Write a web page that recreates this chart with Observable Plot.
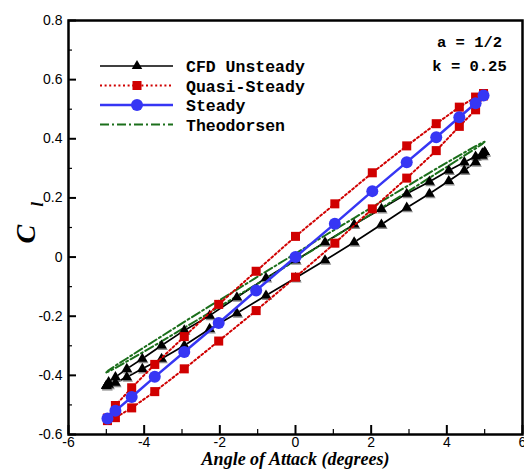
<!DOCTYPE html>
<html><head><meta charset="utf-8">
<script src="https://cdn.jsdelivr.net/npm/d3@7"></script>
<script src="https://cdn.jsdelivr.net/npm/@observablehq/plot@0.6"></script>
<style>body{margin:0;background:#fff}</style>
</head><body><div id="chart"></div>
<script>
// Angle of attack samples (degrees)
const alphaCfd = [-5, -4.94, -4.76, -4.46, -4.05, -3.54, -2.94, -2.27, -1.55, -0.78, 0, 0.78, 1.55, 2.27, 2.94, 3.54, 4.05, 4.46, 4.76, 4.94, 5];
const alphaQs  = [-4.97, -4.76, -4.33, -3.72, -2.94, -2.03, -1.04, 0, 1.04, 2.03, 2.94, 3.72, 4.33, 4.76, 4.97];

// CFD Unsteady (two branches, listed by ascending alpha)
const clCfdUpper = [-0.435, -0.423, -0.406, -0.378, -0.344, -0.299, -0.248, -0.198, -0.136, -0.071, -0.011, 0.050, 0.110, 0.163, 0.214, 0.255, 0.293, 0.321, 0.340, 0.351, 0.355];
const clCfdLower = [-0.435, -0.432, -0.425, -0.406, -0.378, -0.344, -0.299, -0.243, -0.190, -0.130, -0.071, -0.011, 0.050, 0.110, 0.167, 0.214, 0.257, 0.293, 0.321, 0.343, 0.355];

// Quasi-Steady
const clQsUpper = [-0.545, -0.502, -0.442, -0.363, -0.269, -0.160, -0.048, 0.070, 0.180, 0.285, 0.376, 0.451, 0.507, 0.541, 0.553];
const clQsLower = [-0.553, -0.543, -0.510, -0.455, -0.378, -0.284, -0.181, -0.068, 0.047, 0.163, 0.267, 0.360, 0.442, 0.498, 0.545];

// Steady
const clSteady = [-0.546, -0.520, -0.473, -0.405, -0.321, -0.223, -0.113, 0, 0.113, 0.223, 0.321, 0.405, 0.473, 0.520, 0.546];

// Theodorsen (same alpha samples as CFD)
const clThUpper = [-0.39, -0.383, -0.367, -0.343, -0.309, -0.268, -0.219, -0.166, -0.110, -0.049, 0.012, 0.073, 0.132, 0.188, 0.239, 0.285, 0.323, 0.353, 0.375, 0.387, 0.39];
const clThLower = [-0.39, -0.387, -0.375, -0.353, -0.323, -0.285, -0.239, -0.188, -0.132, -0.073, -0.012, 0.049, 0.110, 0.166, 0.219, 0.268, 0.309, 0.343, 0.367, 0.383, 0.39];

// Ticks
const xMajor = [-6, -4, -2, 0, 2, 4, 6];
const xMinor = [-5, -3, -1, 1, 3, 5];
const yMajor = [-0.6, -0.4, -0.2, 0, 0.2, 0.4, 0.6, 0.8];
const yMinor = [-0.5, -0.3, -0.1, 0.1, 0.3, 0.5, 0.7];

const legendLabels = ["CFD Unsteady", "Quasi-Steady", "Steady", "Theodorsen"];
const params = ["a = 1/2", "k = 0.25"];
const xLabel = "Angle of Attack (degrees)";

// build closed loops
function loop(alpha, upper, lower) {
  const up = alpha.map((a, i) => ({a, cl: upper[i]}));
  const down = alpha.map((a, i) => ({a, cl: lower[i]})).reverse();
  return up.concat(down, [up[0]]);
}
const cfdLoop = loop(alphaCfd, clCfdUpper, clCfdLower);
const qsLoop = loop(alphaQs, clQsUpper, clQsLower);
const thLoop = loop(alphaCfd, clThUpper, clThLower);
const steady = alphaQs.map((a, i) => ({a, cl: clSteady[i]}));

const BLACK = "#000000", RED = "#d00000", BLUE = "#3636f4", GREEN = "#1b6f1b";
const QS_DASH = "2,2.6", TH_DASH = "9,3,2,3";
const SERIF = "'Liberation Serif', 'Times New Roman', serif";
const MONO = "'Liberation Mono', 'Courier New', monospace";

const fmtX = d => String(d);
const fmtY = d => d === 0 ? "0" : d.toFixed(1);

const chart = Plot.plot({
  width: 524, height: 473,
  marginTop: 20, marginRight: 2, marginBottom: 39, marginLeft: 68,
  style: {background: "white", fontFamily: "'Liberation Sans', Arial, sans-serif", fontSize: "14px", color: "black"},
  x: {domain: [-6, 6], label: null},
  y: {domain: [-0.6, 0.8], label: null},
  marks: [
    Plot.axisX({ticks: xMajor, anchor: "bottom", tickSize: -9, tickPadding: 12, tickFormat: fmtX, strokeWidth: 2, fontSize: 14, label: null}),
    Plot.axisX({ticks: xMinor, anchor: "bottom", tickSize: -5, text: null, strokeWidth: 1.2, label: null}),
    Plot.axisY({ticks: yMajor, anchor: "left", tickSize: -8, tickPadding: 14, tickFormat: fmtY, strokeWidth: 2, fontSize: 14, label: null}),
    Plot.axisY({ticks: yMinor, anchor: "left", tickSize: -4, text: null, strokeWidth: 1.2, label: null}),

    Plot.line(cfdLoop, {x: "a", y: "cl", stroke: BLACK, strokeWidth: 1.7}),
    Plot.line(thLoop, {x: "a", y: "cl", stroke: GREEN, strokeWidth: 2, strokeDasharray: TH_DASH}),
    Plot.dot(cfdLoop, {x: "a", y: "cl", symbol: "triangle", r: 3.9, fill: "#8c8c8c", dx: 1, dy: 1.5}),
    Plot.dot(cfdLoop, {x: "a", y: "cl", symbol: "triangle", r: 3.9, fill: BLACK}),
    Plot.line(qsLoop, {x: "a", y: "cl", stroke: RED, strokeWidth: 2, strokeDasharray: QS_DASH}),
    Plot.dot(qsLoop, {x: "a", y: "cl", symbol: "square", r: 5.1, fill: RED}),
    Plot.line(steady, {x: "a", y: "cl", stroke: BLUE, strokeWidth: 2.5}),
    Plot.dot(steady, {x: "a", y: "cl", r: 6, fill: BLUE}),

    Plot.text([params[0]], {frameAnchor: "top-right", dx: -53, dy: 15, textAnchor: "middle", fontFamily: MONO, fontWeight: "bold", fontSize: 15.5}),
    Plot.text([params[1]], {frameAnchor: "top-right", dx: -53, dy: 39, textAnchor: "middle", fontFamily: MONO, fontWeight: "bold", fontSize: 15.5}),

    Plot.text([xLabel], {frameAnchor: "bottom", dy: 30.5, fontFamily: SERIF, fontWeight: "bold", fontStyle: "italic", fontSize: 18}),
    Plot.text(["C"], {frameAnchor: "left", dx: -42, dy: 16, rotate: -90, fontFamily: SERIF, fontWeight: "bold", fontStyle: "italic", fontSize: 28}),
    Plot.text(["l"], {frameAnchor: "left", dx: -31, dy: -21, rotate: -90, fontFamily: SERIF, fontWeight: "bold", fontStyle: "italic", fontSize: 16}),

    Plot.frame({stroke: "black", strokeWidth: 2.5})
  ]
});

// Legend (pixel layout inside the frame, top-left)
const svg = d3.select(chart);
const lg = svg.append("g").attr("text-anchor", "start");
const rows = [
  {color: BLACK, dash: null, width: 1.7, sym: d3.symbolTriangle, size: Math.PI * 3.9 * 3.9},
  {color: RED, dash: QS_DASH, width: 2, sym: d3.symbolSquare, size: Math.PI * 5.1 * 5.1},
  {color: BLUE, dash: null, width: 2.5, sym: d3.symbolCircle, size: Math.PI * 36},
  {color: GREEN, dash: TH_DASH, width: 2, sym: null}
];
const rowY = [66, 85.5, 105, 124.5];
rows.forEach((r, i) => {
  const y = rowY[i];
  lg.append("line").attr("x1", 100).attr("x2", 173).attr("y1", y).attr("y2", y)
    .attr("stroke", r.color).attr("stroke-width", r.width)
    .attr("stroke-dasharray", r.dash);
  if (r.sym) {
    lg.append("path").attr("d", d3.symbol(r.sym, r.size)()).attr("transform", `translate(137,${y})`).attr("fill", r.color);
  }
  lg.append("text").attr("x", 186).attr("y", y + 6).attr("text-anchor", "start")
    .attr("font-family", MONO).attr("font-weight", "bold").attr("font-size", 16.5)
    .attr("fill", "black").text(legendLabels[i]);
});

document.getElementById("chart").appendChild(chart);
</script>
</body></html>
